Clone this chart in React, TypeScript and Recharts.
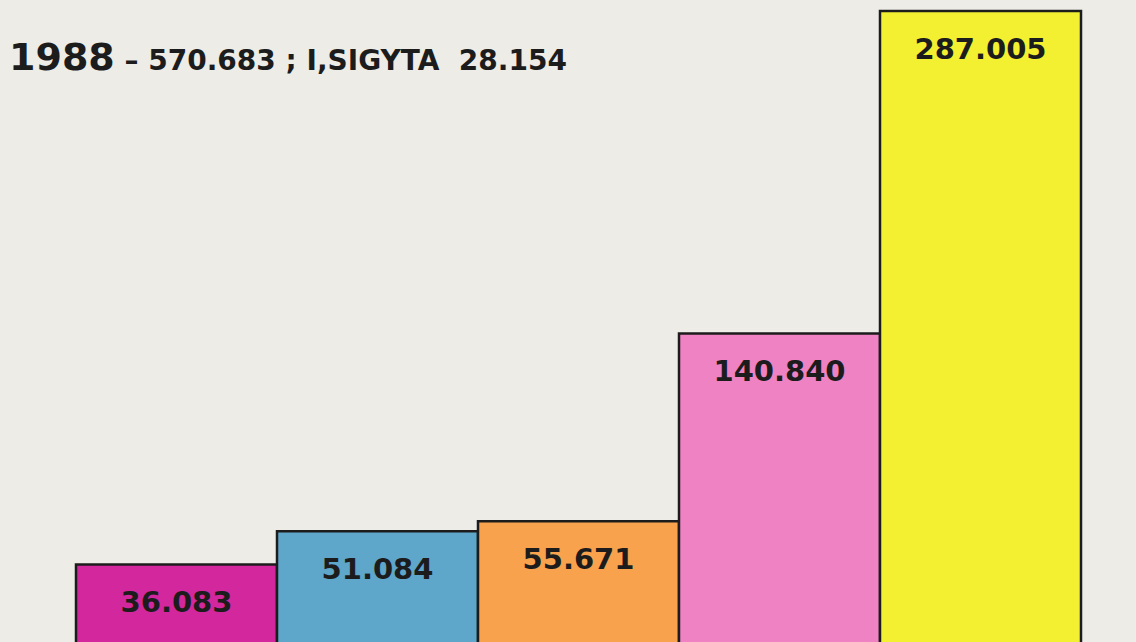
import { BarChart, Bar, XAxis, YAxis, Cell, LabelList } from "recharts";

const categories = ["A", "B", "C", "D", "E"];
const values = [36.083, 51.084, 55.671, 140.84, 287.005];
const valueLabels = ["36.083", "51.084", "55.671", "140.840", "287.005"];

const COLORS = ["#d3279d", "#5ea6ca", "#f9a24e", "#ee82c3", "#f2f030"];
const FONT = "'DejaVu Sans', sans-serif";

const data = categories.map((c, i) => ({ name: c, value: values[i], label: valueLabels[i] }));

function ValueLabel(props: any) {
  const { x, y, width, value } = props;
  return (
    <text
      x={x + width / 2}
      y={y + 38}
      textAnchor="middle"
      dominantBaseline="central"
      fontFamily={FONT}
      fontWeight="bold"
      fontSize={29}
      fill="#1c1c1c"
    >
      {value}
    </text>
  );
}

export default function App() {
  return (
    <div style={{ position: "absolute", left: 0, top: 0, width: 1136, height: 642, overflow: "hidden", background: "#edece7" }}>
      <div
        style={{
          position: "absolute", left: 9, top: 38, fontFamily: FONT, fontWeight: "bold",
          color: "#1c1c1c", whiteSpace: "nowrap", lineHeight: 1,
        }}
      >
        <span style={{ fontSize: 38 }}>1988</span>
        <span style={{ fontSize: 28 }}> – 570.683 ; I,SIGYTA&nbsp;&nbsp;28.154</span>
      </div>
      <BarChart
        width={1136}
        height={650}
        data={data}
        margin={{ top: 0, right: 55, left: 76, bottom: 6 }}
        barCategoryGap={0}
      >
        <XAxis dataKey="name" hide />
        <YAxis domain={[0, 292]} hide />
        <Bar dataKey="value" stroke="#1c1c1c" strokeWidth={2.5} isAnimationActive={false}>
          {data.map((d, i) => (
            <Cell key={d.name} fill={COLORS[i]} />
          ))}
          <LabelList dataKey="label" content={ValueLabel} />
        </Bar>
      </BarChart>
    </div>
  );
}
